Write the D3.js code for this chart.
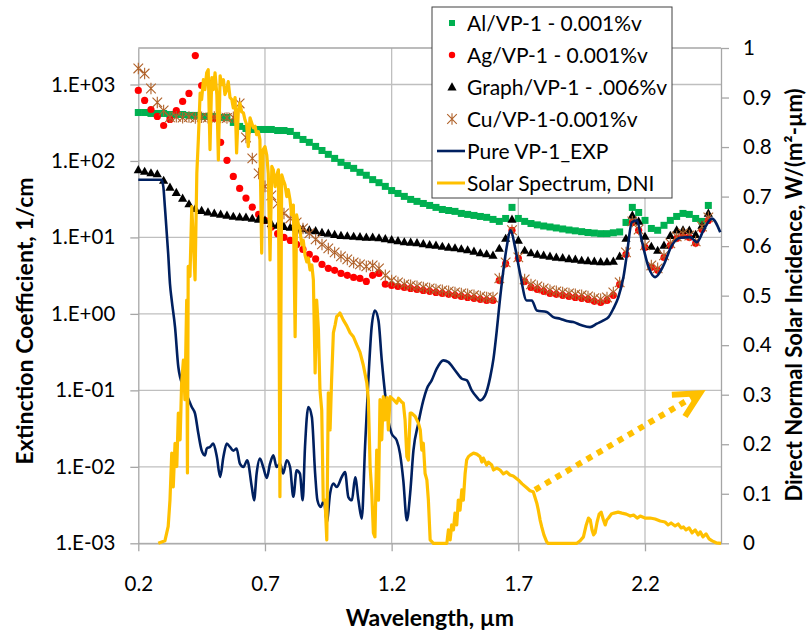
<!DOCTYPE html>
<html><head><meta charset="utf-8">
<script src="https://cdn.jsdelivr.net/npm/d3@7"></script>
<style>body{margin:0;background:#fff;} svg{display:block;font-family:Lato,"Open Sans",sans-serif;}</style>
</head><body><svg id="chart" width="810" height="634"></svg>
<script>
// ---------- DATA ----------
const wavelength = [0.2,0.225,0.25,0.275,0.3,0.325,0.35,0.375,0.4,0.425,
 0.45,0.475,0.5,0.525,0.55,0.575,0.6,0.625,0.65,0.675,
 0.7,0.725,0.75,0.775,0.8,0.825,0.85,0.875,0.9,0.925,
 0.95,0.975,1.0,1.025,1.05,1.075,1.1,1.125,1.15,1.175,
 1.2,1.225,1.25,1.275,1.3,1.325,1.35,1.375,1.4,1.425,
 1.45,1.475,1.5,1.525,1.55,1.575,1.6,1.625,1.65,1.675,
 1.7,1.725,1.75,1.775,1.8,1.825,1.85,1.875,1.9,1.925,
 1.95,1.975,2.0,2.025,2.05,2.075,2.1,2.125,2.15,2.175,
 2.2,2.225,2.25,2.275,2.3,2.325,2.35,2.375,2.4,2.425,2.45];

const alVP1 = [430,430,418,418,418,405,405,405,394,394,
 382,382,382,371,371,319,283,266,258,258,
 258,258,250,250,243,216,191,175,155,137,
 122,108,96,87,80,71,65,57,52,46.5,
 41,37.6,34.4,31.4,29.6,27.8,26.2,24.7,23.2,22.5,
 21.9,20.6,20.0,19.4,18.8,18.3,17.2,16.2,17.7,24.7,
 17.7,16.2,15.2,14.6,14.1,13.7,13.3,12.9,12.5,12.2,
 11.9,11.6,11.4,11.2,11.2,11.5,11.8,15.7,24.7,21.2,
 16.7,13.1,12.4,14.4,16.7,18.8,20.6,20.0,17.7,16.2,26.2];

const agVP1 = [835,618,471,382,291,349,457,600,763,2390,
 970,1060,360,175,102,62.7,43.7,32.7,24.9,20.0,
 16.7,13.6,11.2,10.0,9.14,8.1,6.97,6.0,5.24,4.44,
 3.94,3.71,3.38,3.19,3.0,2.91,2.66,3.19,3.38,2.45,
 2.36,2.29,2.22,2.15,2.09,2.03,1.97,1.91,1.85,1.80,
 1.75,1.69,1.64,1.60,1.55,1.50,1.50,2.74,4.53,12.4,
 5.31,2.66,2.22,2.09,1.97,1.85,1.80,1.75,1.69,1.64,
 1.60,1.55,1.46,1.41,1.50,1.75,2.43,6.0,15.7,12.4,
 7.40,4.06,3.71,5.48,7.86,9.7,10.6,10.0,8.36,12.7,16.7];

const graphVP1 = [76.7,72.9,69.7,67.6,55.6,45.1,38.7,32.4,27.4,23.9,
 22.5,21.5,20.6,20.0,19.4,18.8,18.5,18.3,17.7,17.2,
 16.7,15.2,14.4,13.9,13.5,13.1,12.9,12.5,12.2,11.6,
 11.3,10.9,10.6,10.45,10.3,10.2,10.0,10.0,9.85,9.56,
 9.28,9.0,8.73,8.61,8.48,8.23,7.98,7.86,7.62,7.40,
 7.28,7.07,6.86,6.56,6.27,6.08,5.82,7.18,9.7,17.2,
 9.14,6.76,6.27,6.0,5.82,5.65,5.48,5.40,5.24,5.16,
 5.0,4.94,4.86,4.80,4.80,4.86,5.65,9.7,19.4,16.2,
 10.3,7.62,6.76,7.86,10.6,12.5,12.5,12.4,10.9,14.4,20.6];

const cuVP1 = [1620,1390,887,582,457,372,378,368,375,365,
 372,368,375,370,365,372,565,203,108,68.7,
 46.5,35.4,27.8,20.6,17.7,15.7,13.1,11.3,9.42,8.1,
 7.18,6.37,5.65,5.16,4.71,4.44,4.18,4.3,3.94,3.19,
 2.74,2.58,2.43,2.36,2.29,2.22,2.15,2.09,2.03,1.97,
 1.91,1.85,1.80,1.75,1.69,1.64,1.64,2.91,4.71,12.4,
 5.48,2.82,2.43,2.29,2.15,2.03,1.97,1.91,1.85,1.80,
 1.75,1.69,1.60,1.55,1.64,1.91,2.58,6.37,16.2,12.7,
 7.86,4.30,3.94,5.82,8.36,10.3,11.3,10.6,8.87,13.9,18.3];

// [wavelength µm, extinction 1/cm]
const pureVP1 = [[0.200,56.8],[0.292,56.8],[0.299,45.4],[0.305,24.9],[0.318,6.12],[0.325,2.48],[0.332,1.50],[0.345,0.672],[0.358,0.202],[0.378,0.110],[0.397,0.078],[0.411,0.0605],[0.424,0.0496],[0.437,0.0272],[0.450,0.0164],[0.463,0.0141],[0.470,0.0173],[0.483,0.0182],[0.496,0.0201],[0.510,0.0135],[0.523,0.00736],[0.536,0.0135],[0.549,0.0201],[0.562,0.0182],[0.575,0.0163],[0.588,0.0173],[0.601,0.0110],[0.615,0.00994],[0.630,0.0122],[0.648,0.00545],[0.657,0.00365],[0.667,0.00815],[0.680,0.0128],[0.693,0.00994],[0.707,0.00714],[0.720,0.0110],[0.733,0.0141],[0.746,0.00994],[0.759,0.0110],[0.772,0.00817],[0.786,0.0122],[0.799,0.00994],[0.812,0.00406],[0.825,0.0090],[0.838,0.00815],[0.849,0.00365],[0.858,0.0182],[0.871,0.0605],[0.885,0.0448],[0.898,0.00815],[0.907,0.00365],[0.920,0.00298],[0.933,0.00365],[0.944,0.0019],[0.957,0.00447],[0.970,0.00603],[0.983,0.00545],[1.003,0.00736],[1.016,0.00855],[1.029,0.00403],[1.043,0.00365],[1.056,0.0073],[1.069,0.00365],[1.082,0.0021],[1.095,0.0182],[1.108,0.135],[1.121,0.672],[1.134,1.11],[1.148,0.822],[1.161,0.247],[1.174,0.0906],[1.187,0.0405],[1.200,0.0272],[1.220,0.0222],[1.233,0.0149],[1.246,0.00667],[1.260,0.0020],[1.273,0.00447],[1.286,0.0164],[1.305,0.0367],[1.325,0.074],[1.339,0.105],[1.358,0.135],[1.378,0.192],[1.404,0.247],[1.424,0.234],[1.450,0.183],[1.477,0.142],[1.497,0.135],[1.516,0.100],[1.536,0.0817],[1.549,0.074],[1.569,0.086],[1.589,0.149],[1.602,0.26],[1.615,0.608],[1.625,1.29],[1.641,3.70],[1.654,7.47],[1.670,12.4],[1.687,7.47],[1.707,3.35],[1.733,1.50],[1.753,1.50],[1.773,1.11],[1.812,1.06],[1.838,0.908],[1.865,0.866],[1.891,0.805],[1.917,0.781],[1.950,0.708],[1.983,0.672],[2.010,0.745],[2.036,0.822],[2.056,0.908],[2.075,1.17],[2.095,1.66],[2.115,3.03],[2.128,5.82],[2.148,15.8],[2.168,16.7],[2.187,9.14],[2.214,4.09],[2.240,3.03],[2.273,4.30],[2.306,7.86],[2.339,9.9],[2.378,10.1],[2.405,8.69],[2.431,12.4],[2.464,17.6],[2.497,11.7]];

// [wavelength µm, DNI W/(m2-µm)] on secondary axis
const solarDNI = [[0.279,0],[0.305,0.005],[0.318,0.034],[0.325,0.087],[0.332,0.182],[0.338,0.114],[0.345,0.202],[0.352,0.155],[0.358,0.263],[0.365,0.209],[0.371,0.323],[0.378,0.370],[0.384,0.290],[0.391,0.491],[0.394,0.142],[0.397,0.559],[0.404,0.539],[0.411,0.680],[0.417,0.613],[0.424,0.532],[0.431,0.747],[0.437,0.815],[0.444,0.909],[0.450,0.896],[0.457,0.936],[0.463,0.916],[0.470,0.950],[0.476,0.956],[0.483,0.795],[0.490,0.940],[0.496,0.916],[0.503,0.950],[0.510,0.906],[0.516,0.774],[0.523,0.944],[0.529,0.926],[0.536,0.936],[0.542,0.906],[0.549,0.916],[0.555,0.932],[0.562,0.900],[0.569,0.896],[0.575,0.879],[0.582,0.900],[0.588,0.788],[0.595,0.875],[0.601,0.889],[0.608,0.871],[0.615,0.869],[0.621,0.855],[0.628,0.845],[0.634,0.801],[0.641,0.859],[0.648,0.848],[0.654,0.839],[0.661,0.842],[0.667,0.825],[0.674,0.831],[0.680,0.815],[0.687,0.586],[0.693,0.795],[0.700,0.801],[0.707,0.784],[0.713,0.747],[0.720,0.572],[0.727,0.761],[0.733,0.754],[0.740,0.720],[0.747,0.744],[0.753,0.754],[0.759,0.094],[0.766,0.744],[0.772,0.734],[0.779,0.724],[0.786,0.700],[0.792,0.714],[0.799,0.693],[0.805,0.663],[0.812,0.683],[0.819,0.417],[0.825,0.663],[0.832,0.643],[0.838,0.633],[0.845,0.603],[0.851,0.612],[0.858,0.582],[0.865,0.568],[0.871,0.576],[0.878,0.552],[0.885,0.562],[0.891,0.532],[0.898,0.344],[0.904,0.491],[0.911,0.431],[0.917,0.310],[0.924,0.269],[0.930,0.087],[0.937,0.087],[0.944,0.007],[0.950,0.304],[0.957,0.229],[0.963,0.330],[0.970,0.425],[0.977,0.441],[0.983,0.458],[0.990,0.461],[0.996,0.465],[1.009,0.451],[1.023,0.439],[1.036,0.425],[1.049,0.417],[1.062,0.401],[1.075,0.386],[1.088,0.360],[1.102,0.324],[1.108,0.290],[1.115,0.155],[1.121,0.108],[1.128,0.021],[1.134,0.013],[1.141,0.188],[1.148,0.087],[1.154,0.290],[1.161,0.209],[1.167,0.296],[1.174,0.249],[1.181,0.294],[1.187,0.229],[1.194,0.296],[1.207,0.290],[1.220,0.283],[1.227,0.293],[1.240,0.285],[1.246,0.283],[1.253,0.249],[1.260,0.175],[1.266,0.168],[1.273,0.263],[1.279,0.263],[1.293,0.256],[1.306,0.242],[1.313,0.229],[1.319,0.188],[1.325,0.202],[1.332,0.141],[1.339,0.128],[1.345,0.087],[1.352,0.007],[1.365,0],[1.418,0],[1.424,0.027],[1.431,0.007],[1.437,0.037],[1.444,0.027],[1.450,0.061],[1.457,0.037],[1.463,0.087],[1.470,0.067],[1.477,0.108],[1.483,0.087],[1.490,0.141],[1.496,0.168],[1.503,0.175],[1.510,0.178],[1.523,0.182],[1.536,0.180],[1.549,0.175],[1.556,0.164],[1.562,0.172],[1.575,0.158],[1.582,0.164],[1.595,0.158],[1.602,0.148],[1.615,0.152],[1.628,0.148],[1.641,0.140],[1.654,0.144],[1.667,0.138],[1.680,0.136],[1.700,0.128],[1.715,0.120],[1.733,0.112],[1.746,0.106],[1.759,0.104],[1.773,0.081],[1.779,0.067],[1.786,0.047],[1.792,0.034],[1.801,0.017],[1.812,0.003],[1.817,0],[1.931,0],[1.944,0.005],[1.957,0.013],[1.968,0.037],[1.977,0.051],[1.984,0.047],[1.991,0.027],[1.997,0.017],[2.003,0.021],[2.011,0.043],[2.019,0.059],[2.027,0.063],[2.036,0.047],[2.043,0.037],[2.049,0.047],[2.056,0.051],[2.067,0.059],[2.078,0.061],[2.094,0.063],[2.109,0.061],[2.126,0.059],[2.142,0.055],[2.155,0.057],[2.169,0.051],[2.181,0.055],[2.200,0.051],[2.220,0.051],[2.240,0.049],[2.260,0.045],[2.279,0.043],[2.291,0.037],[2.303,0.041],[2.319,0.035],[2.331,0.039],[2.343,0.031],[2.352,0.033],[2.362,0.027],[2.374,0.031],[2.386,0.021],[2.398,0.027],[2.410,0.017],[2.418,0.023],[2.429,0.013],[2.441,0.019],[2.453,0.009],[2.465,0.005],[2.481,0.001],[2.500,0]];

const xTicks = [0.2,0.7,1.2,1.7,2.2];
const yLeftTicks = [0.001,0.01,0.1,1,10,100,1000];
const yRightTicks = [0,0.1,0.2,0.3,0.4,0.5,0.6,0.7,0.8,0.9,1];
const legendLabels = ["Al/VP-1 - 0.001%v","Ag/VP-1 - 0.001%v","Graph/VP-1 - .006%v","Cu/VP-1-0.001%v","Pure VP-1_EXP","Solar Spectrum, DNI"];
// dotted arrow annotation (wavelength, DNI)
const arrowLine = [[1.766,0.108],[2.405,0.300]];
const arrowHead = [[2.306,0.300],[2.417,0.303],[2.358,0.256]];

// ---------- CHART ----------
const W=810,H=634;
const P={l:138.3,t:48,r:721,b:543.3};
const svg=d3.select('#chart');
svg.append('rect').attr('width',W).attr('height',H).attr('fill','#fff');

const x=d3.scaleLinear().domain([0.2,2.5]).range([P.l,P.r]);
const yL=d3.scaleLog().domain([0.001,3000]).range([P.b,P.t]);
const yR=d3.scaleLinear().domain([0,1]).range([P.b,P.t]);

const gridC='#BFBFBF', axisC='#A6A6A6';
const FONT=20.5, LFONT=21, TFONT=23;

// gridlines
svg.append('g').selectAll('line').data(yLeftTicks).join('line')
  .attr('x1',P.l).attr('x2',P.r).attr('y1',d=>yL(d)).attr('y2',d=>yL(d))
  .attr('stroke',gridC).attr('stroke-width',1.3);
svg.append('g').selectAll('line').data(xTicks.slice(1)).join('line')
  .attr('x1',d=>x(d)).attr('x2',d=>x(d)).attr('y1',P.t).attr('y2',P.b)
  .attr('stroke',gridC).attr('stroke-width',1.3);
// top border
svg.append('line').attr('x1',P.l).attr('x2',P.r).attr('y1',P.t).attr('y2',P.t)
  .attr('stroke',axisC).attr('stroke-width',1.3);

const fmtL=d=>{const e=Math.round(Math.log10(d));return '1.E'+(e<0?'-':'+')+String(Math.abs(e)).padStart(2,'0');};
const fmtR=d=>(d===0?'0':d===1?'1':d.toFixed(1));

function styleAxis(g){
  g.select('.domain').attr('stroke',axisC).attr('stroke-width',1.3);
  g.selectAll('.tick line').attr('stroke',axisC).attr('stroke-width',1.3);
  g.selectAll('.tick text').attr('fill','#000').attr('font-size',FONT).attr('font-family','Lato,"Open Sans",sans-serif');
}
const gL=svg.append('g').attr('transform',`translate(${P.l},0)`)
  .call(d3.axisLeft(yL).tickValues(yLeftTicks).tickFormat(fmtL).tickSize(8).tickPadding(15).tickSizeOuter(0));
styleAxis(gL);
const gR=svg.append('g').attr('transform',`translate(${P.r},0)`)
  .call(d3.axisRight(yR).tickValues(yRightTicks).tickFormat(fmtR).tickSize(8).tickPadding(14).tickSizeOuter(0));
styleAxis(gR);
const gB=svg.append('g').attr('transform',`translate(0,${P.b})`)
  .call(d3.axisBottom(x).tickValues(xTicks).tickFormat(d3.format('.1f')).tickSize(8).tickPadding(25).tickSizeOuter(0));
styleAxis(gB);

// axis titles
svg.append('text').attr('transform','translate(33,321) rotate(-90)').attr('text-anchor','middle')
  .attr('font-size',TFONT).attr('font-weight','bold').text('Extinction Coefficient, 1/cm');
svg.append('text').attr('transform','translate(802,295) rotate(-90)').attr('text-anchor','middle')
  .attr('font-size',22).attr('font-weight','bold')
  .text('Direct Normal Solar Incidence, W/(m\u00B2-\u00B5m)');
svg.append('text').attr('x',430).attr('y',626).attr('text-anchor','middle')
  .attr('font-size',TFONT).attr('font-weight','bold').text('Wavelength, \u00B5m');

// marker series
const C={al:'#00B050',ag:'#FF0000',gr:'#000000',cu:'#B0622A',pure:'#002060',sol:'#FFC000'};
const sq=(g,s)=>g.append('rect').attr('x',-s/2).attr('y',-s/2).attr('width',s).attr('height',s).attr('fill',C.al);
const circ=(g,r)=>g.append('circle').attr('r',r).attr('fill',C.ag);
const tri=(g)=>g.append('path').attr('d','M0,-4.8L4.6,3.4L-4.6,3.4Z').attr('fill',C.gr);
const star=(g,s)=>g.append('path').attr('d',`M${-s},${-s}L${s},${s}M${-s},${s}L${s},${-s}M0,${-s*1.2}L0,${s*1.2}`)
  .attr('stroke',C.cu).attr('stroke-width',1.1).attr('fill','none');

function markers(vals,draw){
  const g=svg.append('g');
  g.selectAll('g').data(vals.map((v,i)=>[wavelength[i],v])).join('g')
    .attr('transform',d=>`translate(${x(d[0])},${yL(d[1])})`)
    .each(function(){draw(d3.select(this));});
}
markers(alVP1,g=>sq(g,7));
markers(agVP1,g=>circ(g,3.6));
markers(graphVP1,g=>tri(g));
markers(cuVP1,g=>star(g,4.8));

// lines
svg.append('path').datum(pureVP1)
  .attr('d',d3.line().x(d=>x(d[0])).y(d=>yL(d[1])).curve(d3.curveMonotoneX))
  .attr('fill','none').attr('stroke',C.pure).attr('stroke-width',2.6).attr('stroke-linejoin','round');
svg.append('path').datum(solarDNI)
  .attr('d',d3.line().x(d=>x(d[0])).y(d=>yR(d[1])))
  .attr('fill','none').attr('stroke',C.sol).attr('stroke-width',3.2).attr('stroke-linejoin','round');

// arrow annotation
svg.append('path').datum(arrowLine)
  .attr('d',d3.line().x(d=>x(d[0])).y(d=>yR(d[1])))
  .attr('fill','none').attr('stroke',C.sol).attr('stroke-width',6).attr('stroke-dasharray','6,6');
svg.append('path').datum(arrowHead)
  .attr('d',d3.line().x(d=>x(d[0])).y(d=>yR(d[1])))
  .attr('fill','none').attr('stroke',C.sol).attr('stroke-width',6).attr('stroke-linejoin','miter');

// legend
const L={x:432,y:7,w:240,h:191,row:32,y0:23};
const lg=svg.append('g');
lg.append('rect').attr('x',L.x).attr('y',L.y).attr('width',L.w).attr('height',L.h)
  .attr('fill','#fff').attr('stroke','#404040').attr('stroke-width',1);
legendLabels.forEach((t,i)=>{
  const cy=L.y0+i*L.row;
  const g=lg.append('g').attr('transform',`translate(452,${cy})`);
  if(i===0) sq(g,6);
  else if(i===1) circ(g,3.2);
  else if(i===2) tri(g);
  else if(i===3) star(g,4.8);
  else g.append('line').attr('x1',-15).attr('x2',13).attr('stroke',i===4?C.pure:C.sol).attr('stroke-width',i===4?2.6:3);
  lg.append('text').attr('x',467).attr('y',cy+LFONT*0.36).attr('font-size',LFONT).attr('fill','#000').text(t);
});
</script></body></html>
